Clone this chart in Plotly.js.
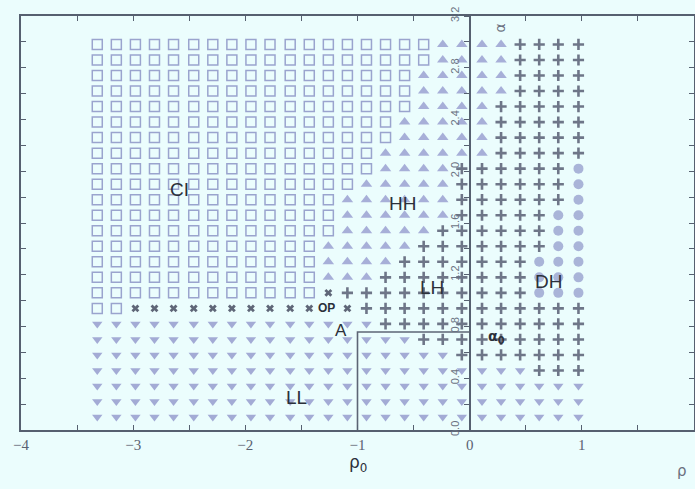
<!DOCTYPE html>
<html>
<head>
<meta charset="utf-8">
<script src="https://cdn.plot.ly/plotly-3.0.1.min.js"></script>
<style>html,body{margin:0;padding:0;background:#ebfdfd;}#chart{width:695px;height:489px;}</style>
</head>
<body>
<div id="chart"></div>
<script>
// grid columns (rho) and rows (alpha)
const colsX = [-3.32,-3.15,-2.98,-2.81,-2.64,-2.46,-2.29,-2.12,-1.95,-1.78,-1.60,-1.43,-1.26,-1.09,-0.92,-0.75,-0.58,-0.41,-0.24,-0.07,0.11,0.28,0.45,0.62,0.79,0.97];
const rowsY = [0.10,0.22,0.34,0.46,0.58,0.70,0.82,0.94,1.06,1.18,1.30,1.42,1.54,1.66,1.78,1.90,2.02,2.14,2.26,2.38,2.50,2.62,2.74,2.86,2.98];
// phase code per row (bottom row first): S=CI, T=HH, P=LH/DH plus, C=DH circle, D=LL, X=OP, .=none
const phaseRows = [
  "DDDDDDDDDDDDDDDDDDDDDDDDDD",
  "DDDDDDDDDDDDDDDDDDDDDDDDDD",
  "DDDDDDDDDDDDDDDDDDDDDDDDDD",
  "DDDDDDDDDDDDDDDDDDDDDDDPPP",
  "DDDDDDDDDDDDDDDDDDDPPPPPPP",
  "DDDDDDDDDDDDDDDDDPPPPPPPPP",
  "DDDDDDDDDDDDDDDPPPPPPPPPPP",
  "SSXXXXXXXXXX.XPPPPPPPPPPPP",
  "SSSSSSSSSSSSXPPPPPPPPPPCCC",
  "SSSSSSSSSSSSTTTPPPPPPPPCCC",
  "SSSSSSSSSSSSTTTTPPPPPPPCCC",
  "SSSSSSSSSSSSTTTTTPPPPPPPCC",
  "SSSSSSSSSSSSSTTTTTPPPPPPCC",
  "SSSSSSSSSSSSSTTTTTTPPPPPCC",
  "SSSSSSSSSSSSSTTTTTTPPPPPPC",
  "SSSSSSSSSSSSSSTTTTTPPPPPPC",
  "SSSSSSSSSSSSSSSTTTTPPPPPPC",
  "SSSSSSSSSSSSSSSTTTTTTPPPPP",
  "SSSSSSSSSSSSSSSSTTTTTPPPPP",
  "SSSSSSSSSSSSSSSSTTTTTPPPPP",
  "SSSSSSSSSSSSSSSSSTTTTPPPPP",
  "SSSSSSSSSSSSSSSSSTTTTTPPPP",
  "SSSSSSSSSSSSSSSSSTTTTTPPPP",
  "SSSSSSSSSSSSSSSSSSTTTTPPPP",
  "SSSSSSSSSSSSSSSSSSTTTTPPPP"
];
// path of point A boundary
const pathX = [-1, -1, 0];
const pathY = [0, 0.757, 0.757];
const xTickVals = [-4,-3.5,-3,-2.5,-2,-1.5,-1,-0.5,0,0.5,1,1.5,2];
const xTickText = ["\u22124","","\u22123","","\u22122","","\u22121","","0","","1","","2"];
const yTickVals = [0,0.2,0.4,0.6,0.8,1.0,1.2,1.4,1.6,1.8,2.0,2.2,2.4,2.6,2.8,3.0,3.2];
const yTickText = ["0.0","","0.4","","0.8","","1.2","","1.6","","2.0","","2.4","","2.8","","3.2"];
const regionNames = ["CI","HH","LH","DH","LL"];
const regionX = [-2.59,-0.60,-0.34,0.70,-1.54];
const regionY = [1.86,1.75,1.10,1.15,0.25];

const styles = {
  S:{symbol:'square-open', size:10, color:'#9aa4ce', line:{color:'#9aa4ce', width:1.5}},
  T:{symbol:'triangle-up', size:10, color:'#a7afd8', line:{width:0}},
  P:{symbol:'cross-thin-open', size:8, color:'#6e7688', line:{color:'#6e7688', width:2.6}},
  C:{symbol:'circle', size:10, color:'#a9b4d8', line:{width:0}},
  D:{symbol:'triangle-down', size:9, color:'#a3abd5', line:{width:0}},
  X:{symbol:'x', size:7, color:'#5f6778', line:{width:0}}
};
const traces = [];
Object.keys(styles).forEach(k => {
  const xs = [], ys = [];
  phaseRows.forEach((row, r) => {
    for (let c = 0; c < row.length; c++) {
      if (row[c] === k) { xs.push(colsX[c]); ys.push(rowsY[r]); }
    }
  });
  traces.push({type:'scatter', mode:'markers', x:xs, y:ys, marker:styles[k], hoverinfo:'none', showlegend:false});
});
traces.push({type:'scatter', mode:'lines', x:pathX, y:pathY, line:{color:'#5d6575', width:1.6}, showlegend:false, hoverinfo:'none'});
traces.push({type:'scatter', mode:'markers', x:[null], y:[null], yaxis:'y2', showlegend:false, hoverinfo:'none'});

const txtColor = '#2b303a';
const annotations = regionNames.map((n,i)=>({x:regionX[i], y:regionY[i], text:n, showarrow:false, font:{family:'Liberation Sans, Arial', size:19, color:txtColor}}));
annotations.push({x:-1.28, y:0.94, text:'<b>OP</b>', showarrow:false, font:{family:'Liberation Sans, Arial', size:12, color:txtColor}});
annotations.push({x:-1.15, y:0.77, text:'A', showarrow:false, font:{family:'Liberation Sans, Arial', size:17, color:txtColor}});
annotations.push({x:0.24, y:0.72, text:'<b>\u03b1<sub>0</sub></b>', showarrow:false, font:{family:'DejaVu Sans', size:14, color:txtColor}});
annotations.push({x:-1, y:-0.08, xref:'x', yref:'paper', yanchor:'middle', text:'\u03c1<sub>0</sub>', showarrow:false, font:{family:'DejaVu Sans', size:17, color:txtColor}});
annotations.push({x:0.992, y:-0.10, xref:'paper', yref:'paper', yanchor:'middle', text:'\u03c1', showarrow:false, font:{family:'DejaVu Sans', size:15, color:'#6a7080'}});
annotations.push({x:0.27, y:3.11, text:'\u03b1', textangle:-90, showarrow:false, font:{family:'DejaVu Sans', size:14, color:'#6a7080'}});

const axCol = '#566070';
const layout = {
  width:695, height:489,
  margin:{l:21, r:1, t:16, b:59},
  paper_bgcolor:'#ebfdfd', plot_bgcolor:'#ebfdfd',
  xaxis:{range:[-4,2], showgrid:false, zeroline:false, showline:true, linecolor:axCol, linewidth:2, mirror:'ticks',
         ticks:'inside', ticklen:5, tickcolor:axCol, tickwidth:1, tickvals:xTickVals, ticktext:xTickText,
         tickfont:{family:'Liberation Serif, serif', size:15, color:'#5a6272'}},
  yaxis:{range:[0,3.2], showgrid:false, zeroline:false, showline:true, linecolor:axCol, linewidth:2, mirror:'ticks',
         ticks:'inside', ticklen:5, tickcolor:axCol, tickvals:yTickVals, showticklabels:false},
  yaxis2:{range:[0,3.2], overlaying:'y', anchor:'free', position:0.6667, side:'left', showgrid:false, zeroline:false,
          showline:true, linecolor:axCol, linewidth:2, ticks:'outside', ticklen:5, tickcolor:axCol,
          tickvals:yTickVals, ticktext:yTickText, tickangle:-90,
          tickfont:{family:'Liberation Sans, Arial', size:11, color:'#6a7282'}},
  annotations:annotations
};
Plotly.newPlot('chart', traces, layout, {displayModeBar:false, staticPlot:true});
</script>
</body>
</html>
